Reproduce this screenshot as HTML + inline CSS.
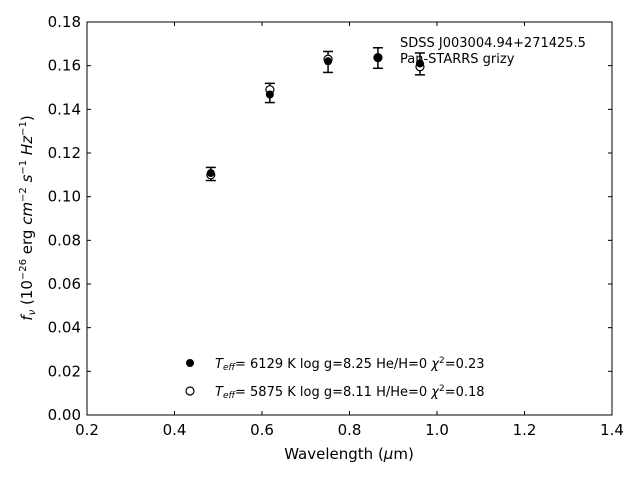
<!DOCTYPE html>
<html><head><meta charset="utf-8"><style>
body{margin:0;background:#fff;}
svg text{font-family:"DejaVu Sans","Liberation Sans",sans-serif;fill:#000;}
</style></head><body>
<svg id="chart" width="640" height="480" viewBox="0 0 640 480" xmlns="http://www.w3.org/2000/svg"></svg>
<script>
const wavelengths=[0.483,0.618,0.751,0.865,0.961];
const obsFlux=[0.1104,0.1475,0.1617,0.1635,0.1608];
const obsErr=[0.0030,0.0044,0.0048,0.0047,0.0050];
const modelA=[0.1108,0.1468,0.1620,0.1635,0.1610];
const modelB=[0.1100,0.1490,0.1630,0.1637,0.1595];
const xTicks=[0.2,0.4,0.6,0.8,1.0,1.2,1.4];
const yTicks=[0,0.02,0.04,0.06,0.08,0.10,0.12,0.14,0.16,0.18];

const L=87,R=612,T=22,B=415;
const sx=v=>L+(v-0.2)/1.2*(R-L);
const sy=v=>B-v/0.18*(B-T);
const svg=document.getElementById('chart');
const NS='http://www.w3.org/2000/svg';
function mk(tag,attrs,parent){const e=document.createElementNS(NS,tag);for(const k in attrs)e.setAttribute(k,attrs[k]);(parent||svg).appendChild(e);return e;}

const frame=mk('rect',{x:L,y:T,width:R-L,height:B-T,fill:'none',stroke:'#000','stroke-width':1});



xTicks.forEach(v=>{
  const x=sx(v);
  const t=mk('line',{x1:x,y1:B,x2:x,y2:B-4,stroke:'#000'});
  
  
  const t2=mk('line',{x1:x,y1:T,x2:x,y2:T+4,stroke:'#000'});
  
  
  const lb=mk('text',{x:x,y:B+20,'text-anchor':'middle','font-size':'15'});
  lb.textContent=v.toFixed(1);
  
  
});
yTicks.forEach(v=>{
  const y=sy(v);
  const t=mk('line',{x1:L,y1:y,x2:L+4,y2:y,stroke:'#000'});
  
  
  const t2=mk('line',{x1:R,y1:y,x2:R-4,y2:y,stroke:'#000'});
  
  
  const lb=mk('text',{x:L-6,y:y+5,'text-anchor':'end','font-size':'15'});
  lb.textContent=v.toFixed(2);
  
  
});

wavelengths.forEach((w,i)=>{
  const x=sx(w),y1=sy(obsFlux[i]-obsErr[i]),y2=sy(obsFlux[i]+obsErr[i]);
  const g=mk('g',{});
  
  
  mk('line',{x1:x,y1:y1,x2:x,y2:y2,stroke:'#000','stroke-width':1.5},g);
  mk('line',{x1:x-5,y1:y1,x2:x+5,y2:y1,stroke:'#000','stroke-width':1.5},g);
  mk('line',{x1:x-5,y1:y2,x2:x+5,y2:y2,stroke:'#000','stroke-width':1.5},g);
});
wavelengths.forEach((w,i)=>{
  const c=mk('circle',{cx:sx(w),cy:sy(modelB[i]),r:4,fill:'#fff',stroke:'#000','stroke-width':1.2});
  
  
});
wavelengths.forEach((w,i)=>{
  const c=mk('circle',{cx:sx(w),cy:sy(modelA[i]),r:4,fill:'#000'});
  
  
});
</script>
<svg style="position:absolute;left:0;top:0" width="640" height="480">
  <text x="400" y="47" font-size="13">SDSS J003004.94+271425.5</text>
  <text x="400" y="63" font-size="13">Pan-STARRS grizy</text>
  <g>
    <circle cx="190" cy="363" r="4" fill="#000"/>
    <text x="215" y="368" font-size="13"><tspan font-style="italic">T<tspan font-size="9" dy="2">eff</tspan></tspan><tspan dy="-2">=  6129 K  log g=8.25  He/H=0  </tspan><tspan font-style="italic">χ</tspan><tspan font-size="9" dy="-5">2</tspan><tspan dy="5">=0.23</tspan></text>
    <circle cx="190" cy="391" r="4" fill="#fff" stroke="#000" stroke-width="1.2"/>
    <text x="215" y="396" font-size="13"><tspan font-style="italic">T<tspan font-size="9" dy="2">eff</tspan></tspan><tspan dy="-2">=  5875 K  log g=8.11  H/He=0  </tspan><tspan font-style="italic">χ</tspan><tspan font-size="9" dy="-5">2</tspan><tspan dy="5">=0.18</tspan></text>
  </g>
  <text x="349" y="459" font-size="15" text-anchor="middle">Wavelength (<tspan font-style="italic">μ</tspan>m)</text>
  <text transform="translate(32,218) rotate(-90)" font-size="15" text-anchor="middle"><tspan font-style="italic">f</tspan><tspan font-style="italic" font-size="10" dy="3">ν</tspan><tspan dy="-3"> (10</tspan><tspan font-size="10" dy="-6">−26</tspan><tspan dy="6"> erg </tspan><tspan font-style="italic">cm</tspan><tspan font-size="10" dy="-6">−2</tspan><tspan dy="6"> </tspan><tspan font-style="italic">s</tspan><tspan font-size="10" dy="-6">−1</tspan><tspan dy="6"> </tspan><tspan font-style="italic">Hz</tspan><tspan font-size="10" dy="-6">−1</tspan><tspan dy="6">)</tspan></text>
</svg>
</body></html>
